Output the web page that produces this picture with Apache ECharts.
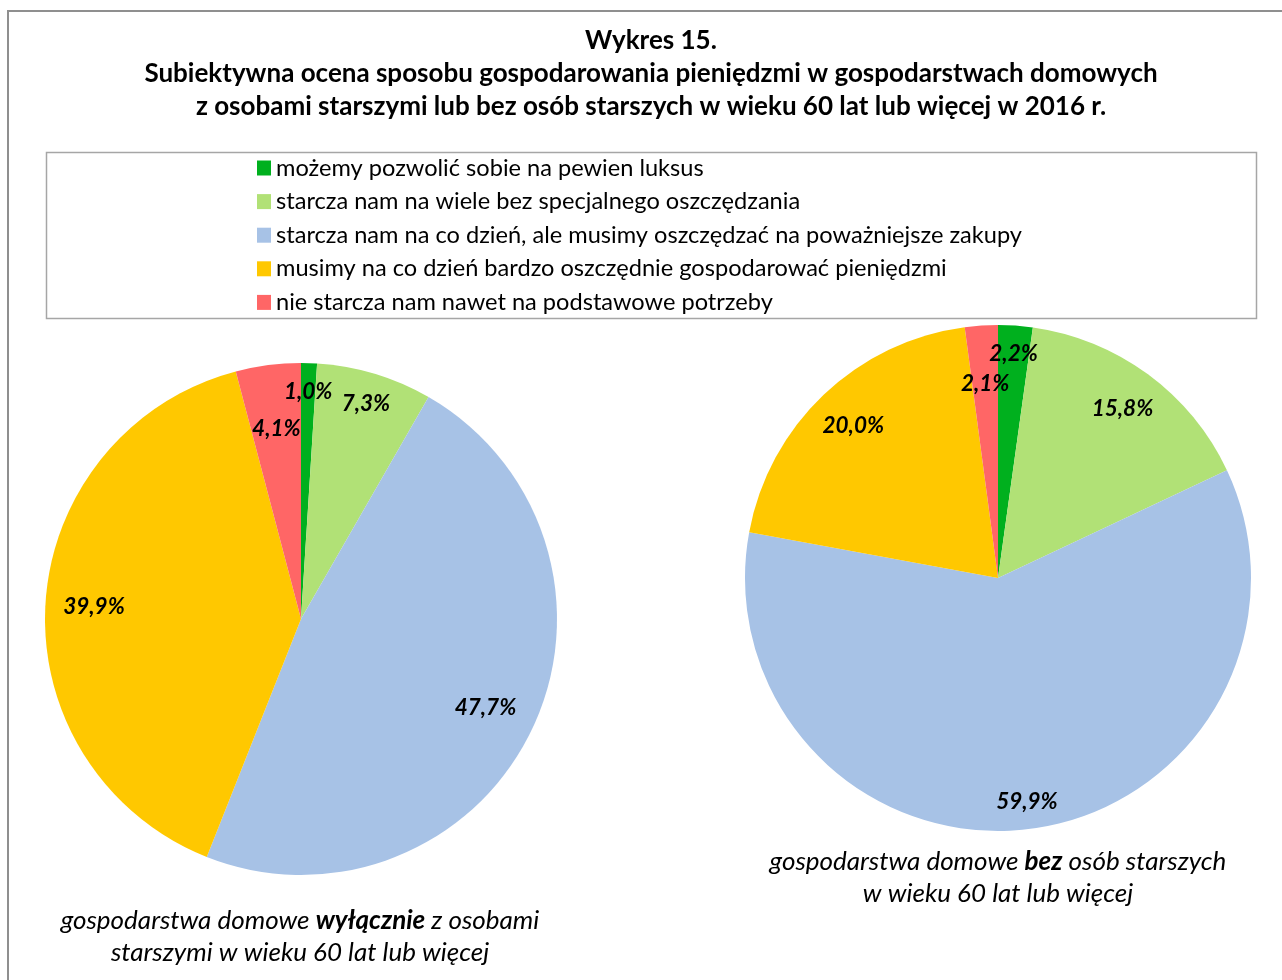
<!DOCTYPE html>
<html>
<head>
<meta charset="utf-8">
<script src="https://cdn.jsdelivr.net/npm/echarts@6/dist/echarts.min.js"></script>
<style>
html,body{margin:0;padding:0;background:#fff;}
#chart{width:1282px;height:980px;}
</style>
</head>
<body>
<div id="chart"></div>
<script>
// ---- data ----
var categories = [
  'możemy pozwolić sobie na pewien luksus',
  'starcza nam na wiele bez specjalnego oszczędzania',
  'starcza nam na co dzień, ale musimy oszczędzać na poważniejsze zakupy',
  'musimy na co dzień bardzo oszczędnie gospodarować pieniędzmi',
  'nie starcza nam nawet na podstawowe potrzeby'
];
var valuesOnlyElderly = [1.0, 7.3, 47.7, 39.9, 4.1];
var valuesNoElderly = [2.2, 15.8, 59.9, 20.0, 2.1];
var titleLines = [
  'Wykres 15.',
  'Subiektywna ocena sposobu gospodarowania pieniędzmi w gospodarstwach domowych',
  'z osobami starszymi lub bez osób starszych w wieku 60 lat lub więcej w 2016 r.'
];

// ---- style ----
var colors = ['#00B01E', '#B1E176', '#A7C2E6', '#FFC800', '#FF6666'];
var FONT = 'Lato, "Open Sans", sans-serif';
var pieCenters = [[301, 619], [998, 578]];
var pieRadii = [256, 253];
// label distance from centre as fraction of radius (per slice)
var labelDist = [[0.89, 0.88, 0.80, 0.81, 0.75], [0.89, 0.83, 0.89, 0.83, 0.77]];

function mkData(vals) {
  return vals.map(function (v, i) {
    return { name: categories[i], value: v, itemStyle: { color: colors[i] } };
  });
}
function fmt(p) { return p.value.toFixed(1).replace('.', ',') + '%'; }

function pie(vals, k) {
  return {
    type: 'pie', center: pieCenters[k], radius: [0, pieRadii[k]], startAngle: 90, clockwise: true,
    avoidLabelOverlap: false,
    data: mkData(vals),
    label: {
      show: true, position: 'inside', formatter: fmt,
      color: '#000', fontFamily: FONT, fontSize: 22.5, fontWeight: 'bold', fontStyle: 'italic'
    },
    labelLine: { show: false },
    labelLayout: function (p) {
      var c = pieCenters[k], r = pieRadii[k];
      var rect = p.labelRect;
      var lx = rect.x + rect.width / 2, ly = rect.y + rect.height / 2;
      var vx = lx - c[0], vy = ly - c[1];
      var d = Math.sqrt(vx * vx + vy * vy) || 1;
      var t = labelDist[k][p.dataIndex] * r;
      return { dx: vx / d * (t - d), dy: vy / d * (t - d) };
    },
    itemStyle: { borderWidth: 0 }, silent: true, emphasis: { disabled: true }, animation: false
  };
}

var rich = {
  n: { fontFamily: FONT, fontSize: 26, fontStyle: 'italic', color: '#000' },
  b: { fontFamily: FONT, fontSize: 26, fontStyle: 'italic', fontWeight: 'bold', color: '#000' }
};

var chart = echarts.init(document.getElementById('chart'));
chart.setOption({
  backgroundColor: '#fff',
  animation: false,
  legend: {
    data: categories, orient: 'vertical', left: 252, top: 151,
    itemWidth: 14, itemHeight: 15, itemGap: 9.6, icon: 'rect',
    textStyle: { fontFamily: FONT, fontSize: 23.6, color: '#000' },
    selectedMode: false
  },
  series: [pie(valuesOnlyElderly, 0), pie(valuesNoElderly, 1)],
  graphic: [
    { type: 'rect', shape: { x: 8, y: 11, width: 1400, height: 1100 }, style: { fill: 'none', stroke: '#8f8f8f', lineWidth: 2 }, silent: true, z: 0 },
    { type: 'rect', shape: { x: 46.5, y: 152.5, width: 1210, height: 166 }, style: { fill: 'none', stroke: '#a6a6a6', lineWidth: 1.5 }, silent: true, z: 0 },
    { type: 'text', x: 651, y: 41, style: { text: titleLines[0], fill: '#000', font: 'bold 26px ' + FONT, textAlign: 'center', textVerticalAlign: 'middle' } },
    { type: 'text', x: 651, y: 74, style: { text: titleLines[1], fill: '#000', font: 'bold 26px ' + FONT, textAlign: 'center', textVerticalAlign: 'middle' } },
    { type: 'text', x: 651, y: 107, style: { text: titleLines[2], fill: '#000', font: 'bold 26px ' + FONT, textAlign: 'center', textVerticalAlign: 'middle' } },
    { type: 'text', x: 300, y: 921, style: { text: '{n|gospodarstwa domowe }{b|wyłącznie}{n| z osobami}', textAlign: 'center', textVerticalAlign: 'middle', rich: rich } },
    { type: 'text', x: 300, y: 953, style: { text: 'starszymi w wieku 60 lat lub więcej', fill: '#000', font: 'italic 26px ' + FONT, textAlign: 'center', textVerticalAlign: 'middle' } },
    { type: 'text', x: 998, y: 862, style: { text: '{n|gospodarstwa domowe }{b|bez}{n| osób starszych}', textAlign: 'center', textVerticalAlign: 'middle', rich: rich } },
    { type: 'text', x: 998, y: 894, style: { text: 'w wieku 60 lat lub więcej', fill: '#000', font: 'italic 26px ' + FONT, textAlign: 'center', textVerticalAlign: 'middle' } }
  ]
});
</script>
</body>
</html>
